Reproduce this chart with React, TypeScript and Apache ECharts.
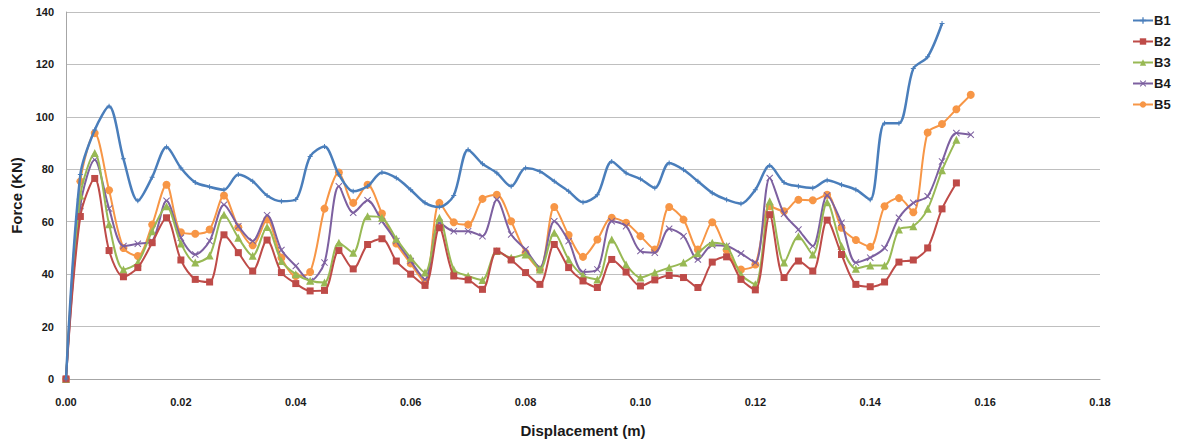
import React, { useEffect, useRef } from "react";
import * as echarts from "echarts";

const displacement = [
  0, 0.0025, 0.005, 0.0075, 0.01, 0.0125, 0.015, 0.0175, 0.02, 0.0225,
  0.025, 0.0275, 0.03, 0.0325, 0.035, 0.0375, 0.04, 0.0425, 0.045, 0.0475,
  0.05, 0.0525, 0.055, 0.0575, 0.06, 0.0625, 0.065, 0.0675, 0.07, 0.0725,
  0.075, 0.0775, 0.08, 0.0825, 0.085, 0.0875, 0.09, 0.0925, 0.095, 0.0975,
  0.1, 0.1025, 0.105, 0.1075, 0.11, 0.1125, 0.115, 0.1175, 0.12, 0.1225,
  0.125, 0.1275, 0.13, 0.1325, 0.135, 0.1375, 0.14, 0.1425, 0.145, 0.1475,
  0.15, 0.1525, 0.155, 0.1575,
];

const b1 = [
  0, 78, 95, 104, 84, 68, 77, 88.5, 80.5, 75,
  73.3, 72.2, 78, 75.4, 70, 67.8, 68.5, 84.9, 88.7, 78,
  71.6, 73.5, 78.8, 76.7, 72.2, 67.2, 65.6, 70, 87.5, 82.1,
  78.6, 73.5, 80.5, 79.2, 75.4, 71.6, 67.4, 70.3, 83, 78.6,
  76.3, 72.9, 82.4, 79.8, 75.4, 71, 68.4, 66.9, 72.2, 81.4,
  75, 73.5, 72.9, 75.8, 74.1, 72.2, 68.4, 97.6, 97.6, 118.4,
  122.9, 135.6,
];

const b2 = [
  0, 62, 76.5, 49, 39, 42.5, 52, 61.5, 45.4, 38,
  37, 55, 48.2, 41.2, 53, 40.6, 36.4, 33.6, 33.8, 49,
  42, 51.3, 53.5, 45, 40, 35.7, 57.7, 39.3, 37.8, 34.2,
  48.8, 45.4, 40.6, 36.1, 51.3, 42.5, 37.4, 34.9, 45.6, 40.8,
  35.5, 37.8, 39.5, 38.7, 34.9, 44.6, 46.6, 38, 34, 62.7,
  38.7, 45, 41.2, 60.6, 47.5, 36.1, 35.2, 37, 44.6, 45.4,
  50, 64.9, 74.8,
];

const b3 = [
  0, 70, 86.2, 59, 41.8, 44.4, 56.4, 65.9, 51.7, 44.4,
  47.1, 62.7, 53.9, 47, 58, 45, 40, 37.5, 36.8, 52,
  48.2, 62.1, 61.5, 53.5, 46.3, 40.6, 61.5, 41.8, 39.3, 37.8,
  48.8, 46.3, 47.5, 41.8, 55.8, 45.6, 39.5, 38, 53.2, 43.7,
  38.7, 40.6, 42.5, 44.4, 48, 52, 50.7, 39.9, 36.1, 67.8,
  44.4, 54.5, 47.5, 67.4, 50.7, 42.1, 43.3, 43.3, 57, 58.3,
  64.9, 79.6, 91.3,
];

const b4 = [
  0, 66, 83.6, 65, 50.7, 51.6, 52.6, 68, 53.9, 47.5,
  52.6, 66.5, 58.3, 52.6, 62.5, 49.2, 43.1, 37.4, 44.4, 73.5,
  63.4, 68.2, 60.2, 52.6, 45, 38, 59.6, 56.4, 56.4, 54.5,
  68.4, 55.1, 49.4, 42.5, 60.2, 52.6, 40.8, 41.8, 60.2, 58.3,
  48.8, 48.2, 57.3, 54.5, 45.6, 51, 50.7, 47.9, 44.4, 76.7,
  63, 57, 50.7, 70, 59.6, 44.4, 46.3, 50, 61.5, 67.2,
  69.7, 83, 93.8, 93.2,
];

const b5 = [
  0, 75.4, 93.8, 72, 50, 46.9, 58.9, 74.1, 56, 55.4,
  57, 70, 57.9, 51, 60.8, 46.3, 39.3, 40.8, 65, 78.8,
  67.2, 74.1, 63.1, 51.7, 44.1, 36.8, 67.2, 59.8, 58.9, 68.7,
  70.3, 60.2, 48.2, 41.8, 65.6, 54.9, 46.6, 53.2, 61.5, 59.6,
  54.5, 49.4, 65.6, 60.8, 49.4, 59.8, 49.2, 41.8, 43.7, 65.9,
  64, 68.4, 68.2, 70.3, 57.7, 53, 50.4, 65.9, 69, 63.6,
  94, 97.3, 102.9, 108.4,
];

const yTicks = [0, 20, 40, 60, 80, 100, 120, 140];

const seriesNames = ["B1", "B2", "B3", "B4", "B5"];
const seriesColors = ["#4a7ebb", "#be4b48", "#98b954", "#7d60a0", "#f79646"];

const plusSymbol = "path://M4,0H6V4H10V6H6V10H4V6H0V4H4Z";
const crossSymbol =
  "path://M1,0L5,4L9,0L10,1L6,5L10,9L9,10L5,6L1,10L0,9L4,5L0,1Z";

function pair(values: number[]) {
  return values.map((v, i) => [displacement[i], v]);
}

export default function App() {
  const ref = useRef<HTMLDivElement>(null);

  useEffect(() => {
    if (!ref.current) return;
    const chart = echarts.init(ref.current, null, { renderer: "svg" });
    const font = "'Liberation Sans', Arial, sans-serif";
    const all = [b1, b2, b3, b4, b5];
    const symbols = [plusSymbol, "rect", "triangle", crossSymbol, "circle"];
    const sizes = [5, 7, 8, 7, 8];
    const widths = [2.5, 2, 2, 2, 2];

    chart.setOption({
      animation: false,
      backgroundColor: "#ffffff",
      textStyle: { fontFamily: font },
      grid: { left: 66, right: 80, top: 12, bottom: 63, containLabel: false },
      legend: {
        orient: "vertical",
        left: 1127,
        top: 9,
        itemWidth: 20,
        itemHeight: 8,
        itemGap: 8,
        data: seriesNames,
        textStyle: {
          fontFamily: font,
          fontWeight: "bold",
          fontSize: 13,
          color: "#1a1a1a",
          padding: [0, 0, 0, -4],
        },
      },
      xAxis: {
        type: "value",
        min: 0,
        max: 0.18,
        interval: 0.02,
        name: "Displacement (m)",
        nameLocation: "middle",
        nameGap: 44,
        nameTextStyle: {
          fontFamily: font,
          fontWeight: "bold",
          fontSize: 15,
          color: "#1a1a1a",
        },
        axisLine: { show: true, lineStyle: { color: "#a6a6a6", width: 1 } },
        axisTick: { show: false },
        splitLine: { show: false },
        axisLabel: {
          margin: 17,
          fontFamily: font,
          fontWeight: "bold",
          fontSize: 11,
          color: "#1a1a1a",
          formatter: (v: number) => v.toFixed(2),
        },
      },
      yAxis: {
        type: "value",
        min: yTicks[0],
        max: yTicks[yTicks.length - 1],
        interval: 20,
        name: "Force (KN)",
        nameLocation: "middle",
        nameGap: 42,
        nameRotate: 90,
        nameTextStyle: {
          fontFamily: font,
          fontWeight: "bold",
          fontSize: 15,
          color: "#1a1a1a",
        },
        axisLine: { show: true, lineStyle: { color: "#a6a6a6", width: 1 } },
        axisTick: { show: false },
        splitLine: { show: true, lineStyle: { color: "#bfbfbf", width: 1 } },
        axisLabel: {
          margin: 12,
          fontFamily: font,
          fontWeight: "bold",
          fontSize: 11,
          color: "#1a1a1a",
        },
      },
      series: seriesNames.map((name, k) => ({
        name,
        type: "line",
        data: pair(all[k]),
        smooth: 0.3,
        symbol: symbols[k],
        symbolSize: sizes[k],
        showSymbol: true,
        lineStyle: { color: seriesColors[k], width: widths[k] },
        itemStyle: { color: seriesColors[k] },
        z: 10 - k,
      })),
    });

    return () => chart.dispose();
  }, []);

  return (
    <div
      ref={ref}
      style={{ position: "fixed", left: 0, top: 0, width: 1180, height: 443 }}
    />
  );
}
